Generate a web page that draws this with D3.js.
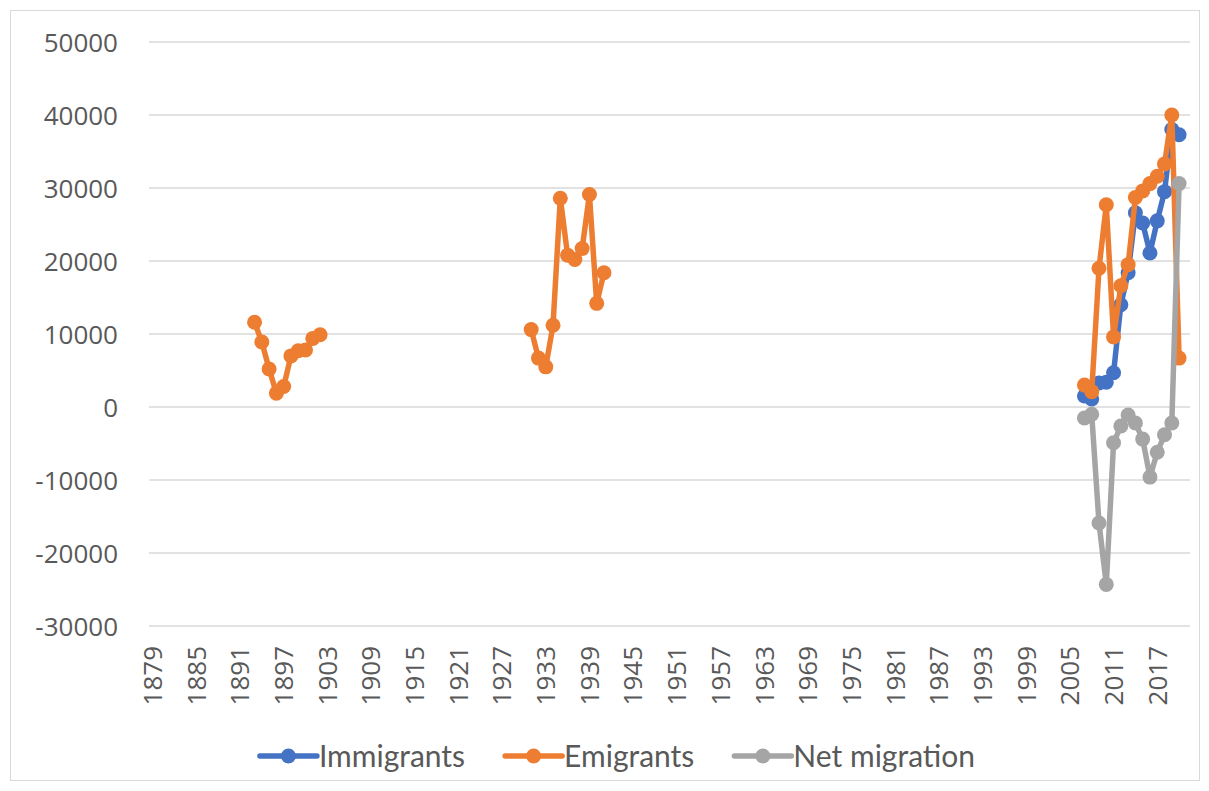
<!DOCTYPE html>
<html>
<head>
<meta charset="utf-8">
<script src="https://cdn.jsdelivr.net/npm/d3@7"></script>
<style>
  html, body { margin: 0; padding: 0; background: #fff; }
  svg { display: block; }
</style>
</head>
<body>
<svg id="chart" width="1209" height="791"></svg>
<script>
// ---- Data ----
const categories = d3.range(1879, 2022); // year categories on the x axis
const xTickLabels = ["1879","1885","1891","1897","1903","1909","1915","1921","1927","1933","1939","1945","1951","1957","1963","1969","1975","1981","1987","1993","1999","2005","2011","2017"];
const yTicks = [-30000, -20000, -10000, 0, 10000, 20000, 30000, 40000, 50000];

const immigrantYears = [2007,2008,2009,2010,2011,2012,2013,2014,2015,2016,2017,2018,2019,2020];
const immigrants     = [1500,1100,3300,3400,4700,14000,18400,26600,25200,21100,25500,29500,38000,37300];

const emigrantYears = [1893,1894,1895,1896,1897,1898,1899,1900,1901,1902,
                       1931,1932,1933,1934,1935,1936,1937,1938,1939,1940,1941,
                       2007,2008,2009,2010,2011,2012,2013,2014,2015,2016,2017,2018,2019,2020];
const emigrants     = [11600,8900,5200,1900,2800,7000,7700,7800,9400,9900,
                       10600,6700,5500,11200,28600,20800,20200,21700,29100,14200,18400,
                       3000,2100,19000,27700,9600,16600,19500,28700,29600,30600,31600,33300,40000,6700];

const netYears = [2007,2008,2009,2010,2011,2012,2013,2014,2015,2016,2017,2018,2019,2020];
const netMigration = [-1500,-1000,-15900,-24300,-4900,-2600,-1100,-2200,-4400,-9600,-6200,-3800,-2200,30600];

const seriesNames  = ["Immigrants", "Emigrants", "Net migration"];
const seriesColors = ["#4472C4", "#ED7D31", "#A5A5A5"];

// ---- Layout ----
const svg = d3.select("#chart");
const plot = { left: 149, right: 1190, top: 42, bottom: 626 };

svg.append("rect")
  .attr("x", 10.5).attr("y", 10.5)
  .attr("width", 1189).attr("height", 770)
  .attr("fill", "#fff").attr("stroke", "#D9D9D9").attr("stroke-width", 1);

const x = d3.scaleBand().domain(categories).range([plot.left, plot.right]).padding(0);
const cx = yr => x(yr) + x.bandwidth() / 2;
const y = d3.scaleLinear().domain([-30000, 50000]).range([plot.bottom, plot.top]);

// gridlines
svg.append("g")
  .selectAll("line").data(yTicks).join("line")
  .attr("x1", plot.left).attr("x2", plot.right)
  .attr("y1", d => y(d)).attr("y2", d => y(d))
  .attr("stroke", "#D9D9D9").attr("stroke-width", 1.6);

// y axis labels
const yAxis = d3.axisLeft(y).tickValues(yTicks).tickSize(0).tickPadding(0).tickFormat(d => String(d));
const gy = svg.append("g").attr("transform", `translate(118,0)`).call(yAxis);
gy.select(".domain").remove();
gy.selectAll("text")
  .attr("font-family", "'Open Sans', 'Noto Sans', sans-serif")
  .attr("font-size", 26).attr("fill", "#595959")
  .attr("dy", "0.36em");

// x axis labels (rotated)
const xAxis = d3.axisBottom(x)
  .tickValues(categories.filter(c => xTickLabels.includes(String(c))))
  .tickSize(0).tickPadding(0).tickFormat(d => String(d));
const gx = svg.append("g").attr("transform", `translate(0,${plot.bottom})`).call(xAxis);
gx.select(".domain").remove();
gx.selectAll(".tick text")
  .attr("font-family", "'Open Sans', 'Noto Sans', sans-serif")
  .attr("font-size", 26).attr("fill", "#595959")
  .attr("text-anchor", "end")
  .attr("transform", "translate(0,20) rotate(-90)")
  .attr("x", 0).attr("y", 0).attr("dy", "0.36em");

// series
function fullSeries(years, values) {
  const m = new Map(years.map((yr, i) => [yr, values[i]]));
  return categories.map(c => ({ year: c, v: m.has(c) ? m.get(c) : null }));
}
const seriesData = [
  fullSeries(immigrantYears, immigrants),
  fullSeries(emigrantYears, emigrants),
  fullSeries(netYears, netMigration)
];

const line = d3.line()
  .defined(d => d.v !== null)
  .x(d => cx(d.year)).y(d => y(d.v));

seriesData.forEach((data, i) => {
  const g = svg.append("g");
  g.append("path").datum(data)
    .attr("d", line).attr("fill", "none")
    .attr("stroke", seriesColors[i]).attr("stroke-width", 5.5)
    .attr("stroke-linejoin", "round").attr("stroke-linecap", "round");
  g.selectAll("circle").data(data.filter(d => d.v !== null)).join("circle")
    .attr("cx", d => cx(d.year)).attr("cy", d => y(d.v))
    .attr("r", 7.5).attr("fill", seriesColors[i]);
});

// legend
const legendY = 756;
const legend = svg.append("g");
const items = [];
seriesNames.forEach((name, i) => {
  const g = legend.append("g");
  g.append("line").attr("x1", 0).attr("x2", 57).attr("y1", 0).attr("y2", 0)
    .attr("stroke", seriesColors[i]).attr("stroke-width", 5.5).attr("stroke-linecap", "round");
  g.append("circle").attr("cx", 28.5).attr("cy", 0).attr("r", 7.5).attr("fill", seriesColors[i]);
  const t = g.append("text").attr("x", 59).attr("y", 0).attr("dy", "0.35em")
    .attr("font-family", "Lato, 'Open Sans', sans-serif")
    .attr("font-size", 30).attr("fill", "#595959").text(name);
  items.push({ g, w: 59 + t.node().getComputedTextLength() });
});
const gap = 40;
const total = d3.sum(items, d => d.w) + gap * (items.length - 1);
let lx = 617.5 - total / 2;
items.forEach(it => {
  it.g.attr("transform", `translate(${lx},${legendY})`);
  lx += it.w + gap;
});
</script>
</body>
</html>
